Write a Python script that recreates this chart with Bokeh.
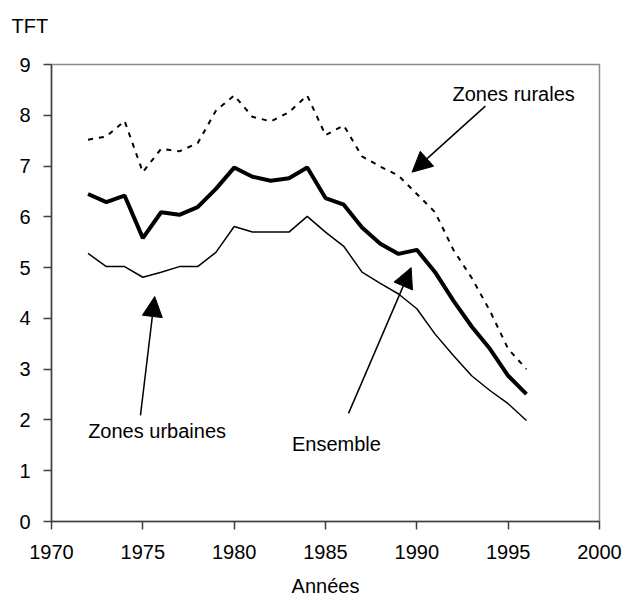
from bokeh.plotting import figure
from bokeh.models import Range1d, Label, Arrow, NormalHead, FixedTicker, Title
from bokeh.embed import file_html
from bokeh.resources import INLINE

# ---- data ----
years = list(range(1972, 1997))
ensemble = [6.45, 6.29, 6.42, 5.58, 6.09, 6.04, 6.19, 6.55, 6.97, 6.79, 6.71, 6.76, 6.97,
            6.37, 6.24, 5.79, 5.47, 5.27, 5.35, 4.91, 4.35, 3.84, 3.40, 2.87, 2.51]
urbaines = [5.28, 5.02, 5.02, 4.81, 4.91, 5.02, 5.02, 5.30, 5.81, 5.70, 5.70, 5.70, 6.01,
            5.70, 5.42, 4.91, 4.69, 4.48, 4.19, 3.69, 3.27, 2.87, 2.58, 2.32, 1.99]
rurales = [7.52, 7.58, 7.89, 6.88, 7.34, 7.29, 7.45, 8.09, 8.39, 7.97, 7.88, 8.06, 8.39,
           7.61, 7.80, 7.19, 6.99, 6.81, 6.45, 6.09, 5.35, 4.80, 4.15, 3.40, 3.00]
x_ticks = [1970, 1975, 1980, 1985, 1990, 1995, 2000]
y_ticks = [0, 1, 2, 3, 4, 5, 6, 7, 8, 9]

FONT = "Liberation Sans"
FS = "20px"

p = figure(width=629, height=602, output_backend="svg", toolbar_location=None,
           x_range=Range1d(1970, 2000), y_range=Range1d(0, 9),
           min_border_left=51, min_border_right=30, min_border_top=64, min_border_bottom=81,
           title=None)
p.xgrid.visible = False
p.ygrid.visible = False
p.outline_line_color = "#8c8c8c"
p.outline_line_width = 1.5
p.background_fill_color = "white"
p.border_fill_color = "white"

p.add_layout(Title(text="TFT\n ", align="left", offset=-40, vertical_align="middle",
                   text_font=FONT, text_font_size=FS, text_font_style="normal",
                   text_color="black"), "above")

p.xaxis.ticker = FixedTicker(ticks=x_ticks)
p.yaxis.ticker = FixedTicker(ticks=y_ticks)
for ax in (p.xaxis[0], p.yaxis[0]):
    ax.axis_line_color = "#404040"
    ax.axis_line_width = 1.5
    ax.major_tick_line_color = "#404040"
    ax.major_tick_line_width = 1.5
    ax.major_tick_out = 8
    ax.major_tick_in = 0
    ax.minor_tick_line_color = None
    ax.major_label_text_font = FONT
    ax.major_label_text_font_size = FS
    ax.major_label_text_color = "black"
p.xaxis.major_label_standoff = 15
p.yaxis.major_label_standoff = 13
p.xaxis.axis_label = "Années"
p.xaxis.axis_label_standoff = 13
p.xaxis.axis_label_text_font = FONT
p.xaxis.axis_label_text_font_size = FS
p.xaxis.axis_label_text_font_style = "normal"
p.xaxis.axis_label_text_color = "black"

p.line(years, rurales, line_color="black", line_width=2, line_dash="5 6")
p.line(years, ensemble, line_color="black", line_width=4)
p.line(years, urbaines, line_color="black", line_width=1.5)

def arrow(x0, y0, x1, y1):
    p.add_layout(Arrow(end=NormalHead(size=20, fill_color="black", line_color="black"),
                       x_start=x0, y_start=y0, x_end=x1, y_end=y1,
                       line_color="black", line_width=1.5))

arrow(1993.75, 8.18, 1989.74, 6.88)
arrow(1974.87, 2.09, 1975.65, 4.43)
arrow(1986.26, 2.13, 1989.69, 5.00)

def label(x, y, text):
    p.add_layout(Label(x=x, y=y, text=text, text_align="center",
                       text_baseline="middle", text_font=FONT, text_font_size=FS,
                       text_color="black"))

label(1995.3, 8.42, "Zones rurales")
label(1975.78, 1.79, "Zones urbaines")
label(1985.6, 1.52, "Ensemble")

open("out.html", "w").write(file_html(p, INLINE))
